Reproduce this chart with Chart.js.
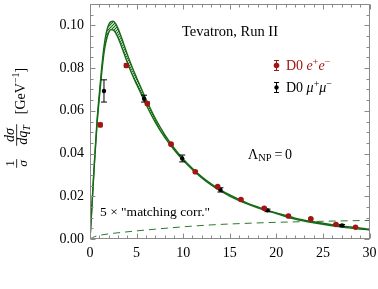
<!DOCTYPE html>
<html>
<head>
<meta charset="utf-8">
<script src="https://cdn.jsdelivr.net/npm/chart.js@4.4.0/dist/chart.umd.min.js"></script>
<style>
  html, body { margin: 0; padding: 0; background: #fff; }
  #wrap { width: 378px; height: 289px; }
</style>
</head>
<body>
<div id="wrap"><canvas id="qtChart" width="378" height="289"></canvas></div>
<script>
// D0 Run II data, normalized qT spectrum
const eeX = [1.1, 3.9, 6.15, 8.7, 11.3, 13.7, 16.2, 18.7, 21.3, 23.7, 26.4, 28.5];
const eeY = [0.0534, 0.0812, 0.0634, 0.0444, 0.0315, 0.0245, 0.0185, 0.0144, 0.0108, 0.0094, 0.0068, 0.0055];
const eeErr = [0.0009, 0.0009, 0.0008, 0.0005, 0.0005, 0.0005, 0.0004, 0.0004, 0.0003, 0.0003, 0.0003, 0.0003];

const mumuX = [1.5, 5.8, 9.9, 14.0, 19.05, 27.05];
const mumuY = [0.0693, 0.0657, 0.0377, 0.0230, 0.0134, 0.0063];
const mumuErr = [0.0052, 0.0016, 0.0016, 0.0010, 0.0006, 0.0005];

// theory band (upper / lower edge)
const bandX = [0, 0.25, 0.5, 0.75, 1, 1.25, 1.5, 1.75, 2, 2.25, 2.5, 2.75, 3, 3.5, 4, 4.5, 5, 5.5, 6, 7, 8, 9, 10, 11, 12, 13, 14, 15, 16, 17, 18, 19, 20, 22, 24, 26, 28, 30];
const bandHi = [0, 0.019, 0.038, 0.055, 0.068, 0.080, 0.090, 0.0966, 0.1003, 0.1018, 0.1020, 0.1008, 0.0986, 0.0928, 0.0865, 0.0807, 0.0755, 0.0705, 0.0655, 0.0565, 0.049, 0.0428, 0.0375, 0.033, 0.0291, 0.0258, 0.023, 0.0206, 0.0185, 0.0166, 0.015, 0.0135, 0.0122, 0.0098, 0.0081, 0.0067, 0.0056, 0.0046];
const bandLo = [0, 0.0185, 0.037, 0.0535, 0.066, 0.0775, 0.087, 0.093, 0.0966, 0.098, 0.0978, 0.0965, 0.0943, 0.0887, 0.0827, 0.0772, 0.0725, 0.0678, 0.0631, 0.0547, 0.0477, 0.0419, 0.0368, 0.0324, 0.0286, 0.0253, 0.0225, 0.0201, 0.018, 0.0162, 0.0146, 0.0132, 0.0119, 0.0093, 0.0076, 0.0062, 0.0051, 0.0042];

// 5 x "matching corr."
const matchX = [0, 0.5, 1, 2, 3, 5, 7, 10, 13, 16, 20, 25, 30];
const matchY = [0, 0.0011, 0.0017, 0.0024, 0.0029, 0.0038, 0.0046, 0.0057, 0.0066, 0.0072, 0.0078, 0.0083, 0.0087];

const xTicks = [0, 5, 10, 15, 20, 25, 30];
const yTicks = [0, 0.02, 0.04, 0.06, 0.08, 0.10];

const green = '#176b17';
const red = '#a31515';
const serif = '"Liberation Serif", "DejaVu Serif", serif';

function font(size, italic) {
  return (italic ? 'italic ' : '') + size + 'px ' + serif;
}

// draw a run of text pieces: [text, size, italic, dy]
function measure(ctx, parts) {
  let w = 0;
  parts.forEach(p => { ctx.font = font(p[1], p[2]); w += ctx.measureText(p[0]).width; });
  return w;
}
function runs(ctx, x, y, parts) {
  let cx = x;
  parts.forEach(p => {
    ctx.font = font(p[1], p[2]);
    ctx.fillText(p[0], cx, y + (p[3] || 0));
    cx += ctx.measureText(p[0]).width;
  });
}
function frac(ctx, u, num, den, vNum, vBar, vDen) {
  const wn = measure(ctx, num), wd = measure(ctx, den);
  const w = Math.max(wn, wd) + 2;
  runs(ctx, u - wn / 2, vNum, num);
  runs(ctx, u - wd / 2, vDen, den);
  ctx.fillRect(u - w / 2, vBar - 0.4, w, 0.8);
}

// hatch pattern for the band
const hatch = (function () {
  const c = document.createElement('canvas');
  c.width = 3; c.height = 3;
  const g = c.getContext('2d');
  g.strokeStyle = green;
  g.lineWidth = 1.2;
  g.beginPath();
  g.moveTo(-1, 4); g.lineTo(4, -1);
  g.moveTo(-1, 1); g.lineTo(1, -1);
  g.moveTo(2, 4); g.lineTo(4, 2);
  g.stroke();
  return g.createPattern(c, 'repeat');
})();

function errBar(ctx, x, y0, y1, cap) {
  ctx.beginPath();
  ctx.moveTo(x, y0); ctx.lineTo(x, y1);
  ctx.moveTo(x - cap, y0); ctx.lineTo(x + cap, y0);
  ctx.moveTo(x - cap, y1); ctx.lineTo(x + cap, y1);
  ctx.stroke();
}

const noPad = s => { s.paddingTop = 0; s.paddingBottom = 0; s.paddingLeft = 0; s.paddingRight = 0; };

const decor = {
  id: 'decor',
  beforeDatasetDraw(chart, args) {
    if (args.index > 1) return;
    const ctx = chart.ctx;
    const xs = chart.scales.x, ys = chart.scales.y;
    const px = args.index === 0 ? eeX : mumuX;
    const py = args.index === 0 ? eeY : mumuY;
    const pe = args.index === 0 ? eeErr : mumuErr;
    ctx.save();
    ctx.strokeStyle = args.index === 0 ? red : '#000';
    ctx.lineWidth = 1;
    px.forEach((x, i) => {
      errBar(ctx, xs.getPixelForValue(x), ys.getPixelForValue(py[i] + pe[i]),
        ys.getPixelForValue(py[i] - pe[i]), args.index === 0 ? 2.5 : 3);
    });
    ctx.restore();
  },
  afterDatasetsDraw(chart) {
    const ctx = chart.ctx;
    const a = chart.chartArea;
    const xs = chart.scales.x, ys = chart.scales.y;
    ctx.save();

    // frame + inward ticks
    ctx.strokeStyle = '#8a8a8a';
    ctx.lineWidth = 1;
    const L = Math.round(a.left) + 0.5, R = Math.round(a.right) - 0.5;
    const T = Math.round(a.top) + 0.5, B = Math.round(a.bottom) - 0.5;
    ctx.strokeRect(L, T, R - L, B - T);
    ctx.beginPath();
    for (let v = 0; v <= 30; v += 1) {
      const x = Math.round(xs.getPixelForValue(v)) + 0.5;
      const len = v % 5 === 0 ? 5 : 3;
      ctx.moveTo(x, B); ctx.lineTo(x, B - len);
      ctx.moveTo(x, T); ctx.lineTo(x, T + len);
    }
    for (let k = 0; k <= 22; k++) {
      const y = Math.round(ys.getPixelForValue(k * 0.005)) + 0.5;
      const len = k % 4 === 0 ? 5 : 3;
      ctx.moveTo(L, y); ctx.lineTo(L + len, y);
      ctx.moveTo(R, y); ctx.lineTo(R - len, y);
    }
    ctx.stroke();

    ctx.textAlign = 'left';
    ctx.textBaseline = 'alphabetic';
    ctx.fillStyle = '#000';

    runs(ctx, 182, 36, [['Tevatron, Run II', 14.5]]);

    // legend
    ctx.strokeStyle = red; ctx.fillStyle = red;
    errBar(ctx, 276.5, 60.5, 70.5, 2.5);
    ctx.beginPath(); ctx.arc(276.5, 65.5, 2.8, 0, Math.PI * 2); ctx.fill();
    runs(ctx, 286, 70, [['D0 ', 14], ['e', 14, true], ['+', 10, false, -5.5], ['e', 14, true], ['\u2212', 10, false, -5.5]]);
    ctx.strokeStyle = '#000'; ctx.fillStyle = '#000';
    errBar(ctx, 276.5, 82.5, 92.5, 2.5);
    ctx.beginPath(); ctx.arc(276.5, 87.5, 2.2, 0, Math.PI * 2); ctx.fill();
    runs(ctx, 286, 92, [['D0 ', 14], ['\u03bc', 14, true], ['+', 10, false, -5.5], ['\u03bc', 14, true], ['\u2212', 10, false, -5.5]]);

    runs(ctx, 248, 158.5, [['\u039b', 14], ['NP', 10.5, false, 2.5], ['\u2009=\u20090', 14]]);
    runs(ctx, 100, 216, [['5 \u00d7 "matching corr."', 13.5]]);

    // y axis title, rotated
    ctx.translate(0, 120);
    ctx.rotate(-Math.PI / 2);
    frac(ctx, -43.5, [['1', 13]], [['\u03c3', 13.5, true]], 13.5, 16.7, 26.5);
    frac(ctx, -15, [['d\u03c3', 14, true]], [['dq', 14, true], ['T', 10, true, 2.5]], 13.5, 16.7, 27);
    const lab = [['[GeV', 14], ['\u22121', 10, false, -5.5], [']', 14]];
    runs(ctx, 29 - measure(ctx, lab) / 2, 24.5, lab);
    ctx.restore();
  }
};

const pts = (xs, ys) => xs.map((x, i) => ({ x: x, y: ys[i] }));

new Chart(document.getElementById('qtChart'), {
  type: 'scatter',
  data: {
    datasets: [
      {
        label: 'D0 e+e-',
        data: pts(eeX, eeY),
        backgroundColor: red,
        borderWidth: 0,
        pointRadius: 2.8,
      },
      {
        label: 'D0 mu+mu-',
        data: pts(mumuX, mumuY),
        backgroundColor: '#000',
        borderWidth: 0,
        pointRadius: 2.2,
      },
      {
        label: 'upper',
        data: pts(bandX, bandHi),
        showLine: true,
        pointRadius: 0,
        borderColor: green,
        borderWidth: 1.4,
        cubicInterpolationMode: 'monotone',
        fill: false,
      },
      {
        label: 'lower',
        data: pts(bandX, bandLo),
        showLine: true,
        pointRadius: 0,
        borderColor: green,
        borderWidth: 1.4,
        cubicInterpolationMode: 'monotone',
        backgroundColor: hatch,
        fill: '-1',
      },
      {
        label: 'matching',
        data: pts(matchX, matchY),
        showLine: true,
        pointRadius: 0,
        borderColor: '#2b7a2b',
        borderWidth: 1,
        borderDash: [7, 5],
        cubicInterpolationMode: 'monotone',
        fill: false,
      },
    ],
  },
  options: {
    responsive: false,
    devicePixelRatio: 1,
    animation: false,
    layout: { padding: { top: 1, right: 8.5, left: 0, bottom: 0 } },
    plugins: {
      legend: { display: false },
      tooltip: { enabled: false },
    },
    scales: {
      x: {
        type: 'linear',
        min: 0,
        max: 30,
        grid: { display: false, drawTicks: false },
        border: { display: false },
        afterBuildTicks: s => { s.ticks = xTicks.map(v => ({ value: v })); },
        afterFit: s => { s.height = 50; noPad(s); },
        ticks: {
          padding: 6,
          color: '#000',
          maxRotation: 0,
          font: { family: serif, size: 14 },
          callback: v => String(v),
        },
      },
      y: {
        type: 'linear',
        min: 0,
        max: 0.11,
        grid: { display: false, drawTicks: false },
        border: { display: false },
        afterBuildTicks: s => { s.ticks = yTicks.map(v => ({ value: v })); },
        afterFit: s => { s.width = 90; noPad(s); },
        ticks: {
          padding: 6,
          color: '#000',
          font: { family: serif, size: 14 },
          callback: v => Number(v).toFixed(2),
        },
      },
    },
  },
  plugins: [decor],
});
</script>
</body>
</html>
